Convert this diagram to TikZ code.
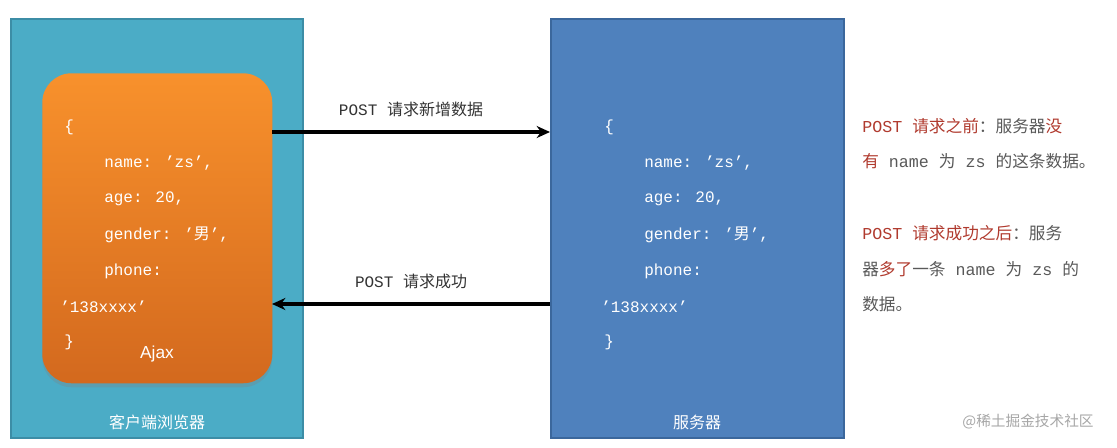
\documentclass[tikz,border=0pt]{standalone}
\usepackage{fontspec}
\setmainfont{Liberation Mono}
\newfontfamily\cjk{Noto Sans CJK SC}
\newfontfamily\sansf{Liberation Sans}
\usetikzlibrary{arrows.meta,shadows}
\definecolor{cyanbox}{HTML}{4BACC6}
\definecolor{cyanedge}{HTML}{3C8DA6}
\definecolor{bluebox}{HTML}{4F81BD}
\definecolor{blueedge}{HTML}{3B679C}
\definecolor{orgtop}{HTML}{F8912C}
\definecolor{orgbot}{HTML}{D3691E}
\definecolor{redt}{HTML}{B03A2E}
\definecolor{grayt}{HTML}{595959}
\tikzset{
  code/.style={anchor=west,text=white,font=\fontsize{12}{14}\selectfont,inner sep=0pt},
  note/.style={anchor=west,text=grayt,font=\fontsize{12.5}{14}\selectfont,inner sep=0pt},
  lbl/.style={font=\fontsize{12}{14}\selectfont,inner sep=0pt},
  arr/.style={line width=2.6pt,-{Stealth[length=10pt,width=9pt]}}
}
\begin{document}
\begin{tikzpicture}[x=0.75pt,y=-0.75pt]
\useasboundingbox (0,0) rectangle (1117,447);
\node[draw=cyanedge,line width=1.5pt,fill=cyanbox,minimum width=292*0.75pt,minimum height=419*0.75pt,anchor=north west] (client) at (10,18) {};
\node[draw=blueedge,line width=1.5pt,fill=bluebox,minimum width=293*0.75pt,minimum height=419*0.75pt,anchor=north west] (server) at (550,18) {};
\node[rounded corners=22pt,top color=orgtop,bottom color=orgbot,minimum width=230*0.75pt,minimum height=310*0.75pt,anchor=north west,drop shadow={opacity=0.3,shadow xshift=0pt,shadow yshift=-3pt}] (ajax) at (42,73) {};
\node[code] (c1) at (64,127) {\{};
\node[code] (c2) at (104,163) {name: '{}zs',};
\node[code] (c3) at (104,199) {age: 20,};
\node[code] (c4) at (104,235) {gender: '{\cjk 男}',};
\node[code] (c5) at (104,271) {phone:};
\node[code] (c6) at (60,307) {'138xxxx'};
\node[code] (c7) at (64,342) {\}};
\node[text=white,font=\sansf\fontsize{13}{15}\selectfont] (aj) at (157,354) {Ajax};
\node[code] (s1) at (604,127) {\{};
\node[code] (s2) at (644,163) {name: '{}zs',};
\node[code] (s3) at (644,199) {age: 20,};
\node[code] (s4) at (644,235) {gender: '{\cjk 男}',};
\node[code] (s5) at (644,271) {phone:};
\node[code] (s6) at (601,307) {'138xxxx'};
\node[code] (s7) at (604,342) {\}};
\node[lbl,text=white] (cl) at (157,422) {\cjk 客户端浏览器};
\node[lbl,text=white] (sl) at (697,422) {\cjk 服务器};
\coordinate (a1) at (272,132);
\coordinate (b1) at (550,132);
\coordinate (a2) at (550,304);
\coordinate (b2) at (272,304);
\draw[arr] (a1) -- (b1) node[midway,above=10pt,lbl,text=black!80] (t1) {POST {\cjk 请求新增数据}};
\draw[arr] (a2) -- (b2) node[midway,above=10pt,lbl,text=black!80] (t2) {POST {\cjk 请求成功}};
\node[note] (n1) at (862,126) {\textcolor{redt}{POST {\cjk 请求之前}}{\cjk ：服务器\textcolor{redt}{没}}};
\node[note] (n2) at (862,161) {{\cjk\textcolor{redt}{有}} name {\cjk 为} zs {\cjk 的这条数据。}};
\node[note] (n3) at (862,233) {\textcolor{redt}{POST {\cjk 请求成功之后}}{\cjk ：服务}};
\node[note] (n4) at (862,269) {{\cjk 器\textcolor{redt}{多了}一条} name {\cjk 为} zs {\cjk 的}};
\node[note] (n5) at (862,304) {\cjk 数据。};
\node[lbl,text=black!35,font=\fontsize{11}{13}\selectfont] (wm) at (1028,422) {\cjk @稀土掘金技术社区};
\end{tikzpicture}
\end{document}
